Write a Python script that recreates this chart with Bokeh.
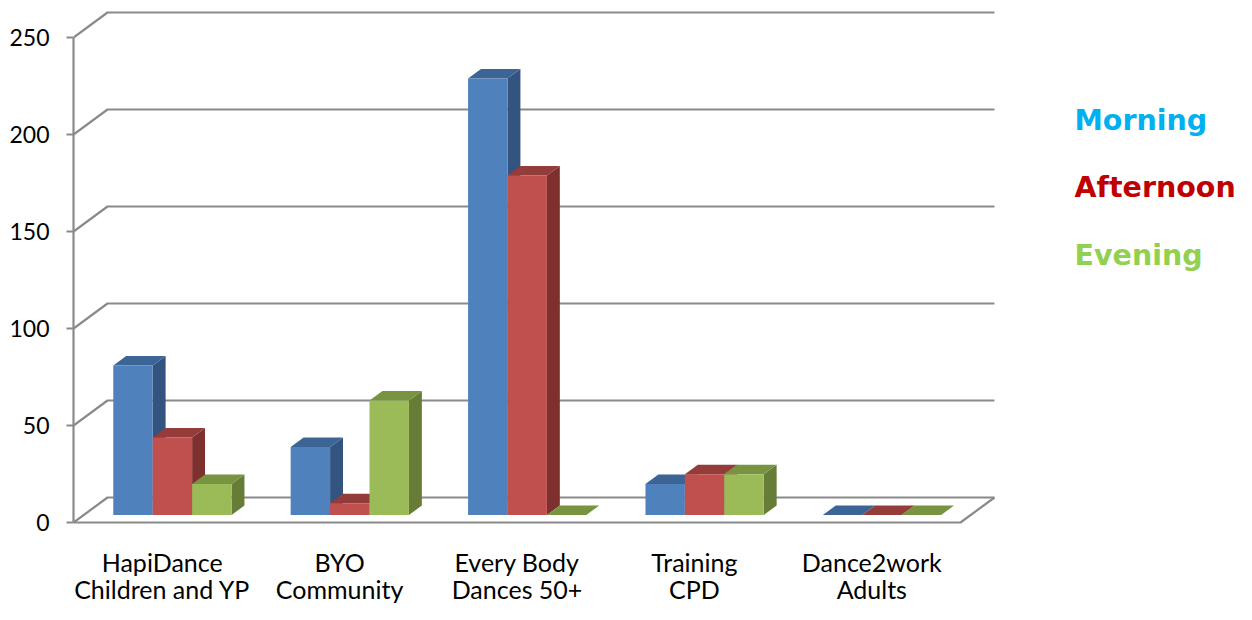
from bokeh.plotting import figure
from bokeh.models import Range1d, FixedTicker, ColumnDataSource
from bokeh.core.properties import value
from bokeh.embed import file_html
from bokeh.resources import INLINE

# ---------------- data ----------------
cat_line1 = ["HapiDance", "BYO", "Every Body", "Training", "Dance2work"]
cat_line2 = ["Children and YP", "Community", "Dances 50+", "CPD", "Adults"]
series_names = ["Morning", "Afternoon", "Evening"]
morning = [77, 35, 225, 16, 0]
afternoon = [40, 6, 175, 21, 0]
evening = [16, 59, 0, 21, 0]
y_ticks = [0, 50, 100, 150, 200, 250]

# ---------------- styles ----------------
front_colors = ["#4F81BD", "#C0504D", "#9BBB59"]
top_colors = ["#3C6494", "#943C3A", "#789440"]
side_colors = ["#345480", "#7D302E", "#667C37"]
legend_colors = ["#00B0F0", "#C00000", "#92D050"]
GRID = "#8A8A8A"

# ---------------- layout (pixels) ----------------
W, H = 1236, 604
PAD_LEFT = 73          # frame left edge in plot px
ZERO_PX = 522          # plot px of value 0 on the front plane
PX_PER_UNIT = 1.94
CAT_PX = 177.4
DEPTH_PX = (34, 25)
F0, F1 = 0.3, 0.68     # bar front/back as fraction of floor depth

x_end = (W - PAD_LEFT) / CAT_PX
y_end = ZERO_PX / PX_PER_UNIT
y_start = -(H - ZERO_PX) / PX_PER_UNIT
DX = DEPTH_PX[0] / CAT_PX
DY = DEPTH_PX[1] / PX_PER_UNIT


def px_x(px):
    return (px - PAD_LEFT) / CAT_PX


def px_y(py):
    return (ZERO_PX - py) / PX_PER_UNIT


p = figure(width=W, height=H, x_range=Range1d(0, x_end), y_range=Range1d(y_start, y_end),
           output_backend="svg", toolbar_location=None, x_axis_location=None,
           min_border_left=PAD_LEFT, min_border_right=0, min_border_top=0, min_border_bottom=0)
p.outline_line_color = None
p.grid.visible = False
p.background_fill_color = "white"

N = len(cat_line1)

# ---------------- walls / gridlines ----------------
gx, gy = [], []
for v in y_ticks:
    gx.append([0, DX, N + DX])
    gy.append([v, v + DY, v + DY])
gx.append([0, N, N + DX])
gy.append([0, 0, DY])
p.multi_line(gx, gy, line_color=GRID, line_width=2.2)

# ---------------- bars ----------------
series = [morning, afternoon, evening]
ns = len(series)
bw = 1.0 / (ns + 1.5)
xs, ys, cs = [], [], []
for i in range(N):
    for j in range(ns):
        v = series[j][i]
        xl = i + 0.75 * bw + j * bw
        xr = xl + bw
        a0, a1 = F0 * DX, F1 * DX
        b0, b1 = F0 * DY, F1 * DY
        if v > 0:
            xs.append([xr + a0, xr + a1, xr + a1, xr + a0])
            ys.append([b0, b1, v + b1, v + b0])
            cs.append(side_colors[j])
        xs.append([xl + a0, xr + a0, xr + a1, xl + a1])
        ys.append([v + b0, v + b0, v + b1, v + b1])
        cs.append(top_colors[j])
        if v > 0:
            xs.append([xl + a0, xr + a0, xr + a0, xl + a0])
            ys.append([b0, b0, v + b0, v + b0])
            cs.append(front_colors[j])
p.patches(source=ColumnDataSource(dict(xs=xs, ys=ys, c=cs)), xs="xs", ys="ys",
          fill_color="c", line_color=None)

# ---------------- y axis ----------------
ax = p.yaxis[0]
ax.ticker = FixedTicker(ticks=y_ticks)
ax.bounds = (y_ticks[0], y_ticks[-1])
ax.axis_line_color = GRID
ax.axis_line_width = 2.2
ax.major_tick_line_color = GRID
ax.major_tick_line_width = 2.2
ax.major_tick_out = 7
ax.major_tick_in = 0
ax.minor_tick_line_color = None
ax.major_label_standoff = 17
ax.major_label_text_font = "Lato"
ax.major_label_text_font_size = "23px"
ax.major_label_text_color = "black"

# ---------------- category labels ----------------
cx = [i + 0.5 for i in range(N)]
p.text(x=cx, y=[px_y(561)] * N, text=cat_line1, text_align="center",
       text_baseline="middle", text_font=value("Lato"), text_font_size="25px",
       text_color="black")
p.text(x=cx, y=[px_y(588)] * N, text=cat_line2, text_align="center",
       text_baseline="middle", text_font=value("Lato"), text_font_size="25px",
       text_color="black")

# ---------------- legend ----------------
p.text(x=[px_x(1074)] * ns, y=[px_y(120), px_y(187), px_y(255)], text=series_names,
       text_color=legend_colors, text_align="left", text_baseline="middle",
       text_font=value("DejaVu Sans"), text_font_style="bold", text_font_size="28.5px")

open("out.html", "w").write(file_html(p, INLINE))
